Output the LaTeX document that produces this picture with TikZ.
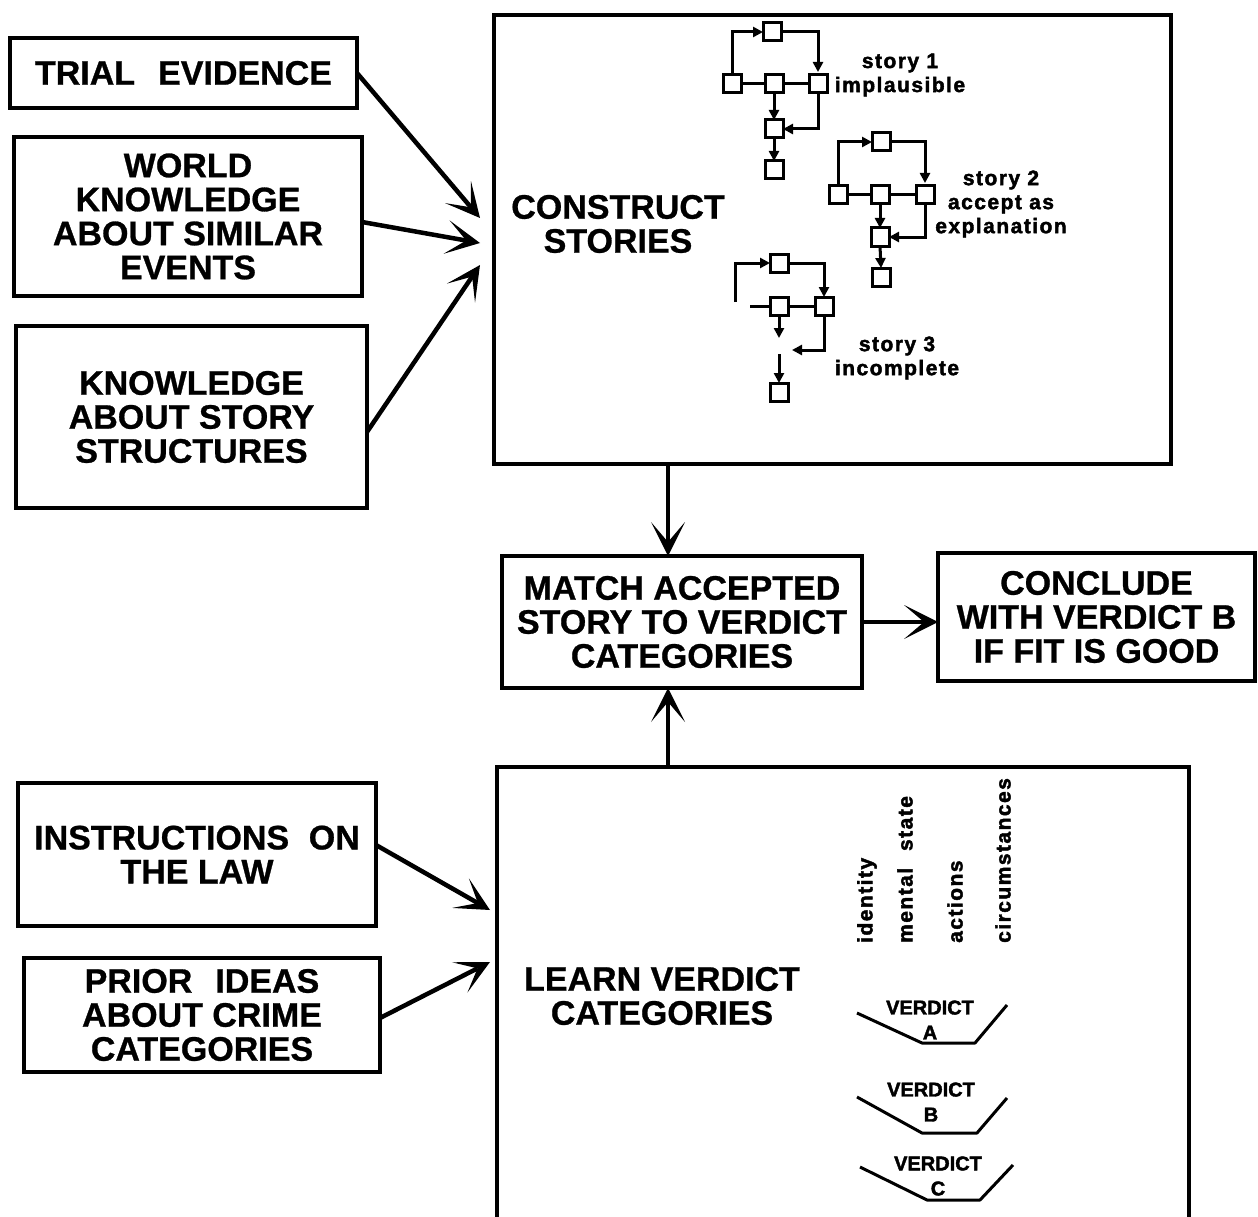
\documentclass[tikz,border=0pt]{standalone}
\usepackage{fontspec}
\setmainfont{Liberation Sans}[BoldFeatures={FakeBold=0.8}]
\newfontfamily\spaced{Liberation Sans}[LetterSpace=7, BoldFeatures={FakeBold=2}]
\newfontfamily\heavy{Liberation Sans}[BoldFeatures={FakeBold=2}]
\usetikzlibrary{arrows.meta,calc}
\begin{document}
\begin{tikzpicture}[x=1pt,y=-1pt]
\tikzset{
 box/.style={draw, line width=4pt, inner sep=0pt, outer sep=0pt, align=center, font=\bfseries\fontsize{34}{34}\selectfont},
 big/.style={align=center, font=\bfseries\fontsize{34}{34}\selectfont, inner sep=0pt},
 arr/.style={line width=4.5pt, -{Stealth[length=34pt,width=34pt,inset=20pt,line width=0pt]}},
 sq/.style={draw, line width=3pt, minimum size=18pt, inner sep=0pt, outer sep=0pt},
 sline/.style={line width=3pt},
 sarr/.style={line width=3pt, -{Triangle[length=10pt,width=10pt]}},
 small/.style={font=\spaced\bfseries\fontsize{21}{24}\selectfont, align=center, inner sep=0pt},
 vlab/.style={small, rotate=90, anchor=west},
 vtext/.style={font=\heavy\bfseries\fontsize{20}{25}\selectfont, align=center, inner sep=0pt},
 vline/.style={line width=3pt, line join=round},
}
\useasboundingbox (0,0) rectangle (1258,1217);
\clip (0,0) rectangle (1258,1217);
\fill[white] (0,0) rectangle (1258,1217);

% input boxes
\node[box, minimum width=347pt, minimum height=70pt] (trial) at (183.5,73) {TRIAL\hspace{0.4em} EVIDENCE};
\node[box, minimum width=348pt, minimum height=159pt] (world) at (188,216.5) {WORLD\\KNOWLEDGE\\ABOUT SIMILAR\\EVENTS};
\node[box, minimum width=351pt, minimum height=182pt] (kstory) at (191.5,417) {KNOWLEDGE\\ABOUT STORY\\STRUCTURES};
\node[box, minimum width=358pt, minimum height=143pt] (instr) at (197,854.5) {INSTRUCTIONS\hspace{0.3em} ON\\THE LAW};
\node[box, minimum width=356pt, minimum height=114pt] (prior) at (202,1015) {PRIOR\hspace{0.4em} IDEAS\\ABOUT CRIME\\CATEGORIES};

% process boxes
\node[box, minimum width=677pt, minimum height=449pt] (construct) at (832.5,239.5) {};
\node[big] (constructtxt) at (618,224) {CONSTRUCT\\STORIES};
\node[box, minimum width=360pt, minimum height=132pt] (match) at (682,622) {MATCH ACCEPTED\\STORY TO VERDICT\\CATEGORIES};
\node[box, minimum width=317pt, minimum height=128pt] (conclude) at (1096.5,617) {CONCLUDE\\WITH VERDICT B\\IF FIT IS GOOD};
\node[box, minimum width=692pt, minimum height=473pt] (learn) at (843,1003.5) {};
\node[big] (learntxt) at (662,996) {LEARN VERDICT\\CATEGORIES};

% main arrows
\draw[arr] (trial.east) -- ([xshift=-14pt,yshift=21.5pt]construct.west);
\draw[arr] ([yshift=-5.5pt]world.east) -- ([xshift=-14pt,yshift=-3.5pt]construct.west);
\draw[arr] ([yshift=-15pt]kstory.east) -- ([xshift=-14pt,yshift=-25.5pt]construct.west);
\draw[arr] ([xshift=-164.5pt]construct.south) -- ([xshift=-14pt]match.north);
\draw[arr] ([xshift=-175pt]learn.north) -- ([xshift=-14pt]match.south);
\draw[arr] (match.east) -- (match.east -| conclude.west);
\draw[arr] ([yshift=9.5pt]instr.east) -- ([xshift=-7pt,yshift=93.5pt]learn.west);
\draw[arr] ([yshift=-3pt]prior.east) -- ([xshift=-7pt,yshift=41.5pt]learn.west);

% story 1
\node[sq] (s1t) at (772,32) {};
\node[sq] (s1a) at (732,84) {};
\node[sq] (s1b) at (774,84) {};
\node[sq] (s1c) at (818,84) {};
\node[sq] (s1d) at (774,129) {};
\node[sq] (s1e) at (774,170) {};
\draw[sarr] (s1a.north) |- (s1t.west);
\draw[sarr, shorten >=3pt] (s1t.east) -| (s1c.north);
\draw[sline] (s1a.east) -- (s1b.west) (s1b.east) -- (s1c.west);
\draw[sarr] (s1b.south) -- (s1d.north);
\draw[sarr] (s1c.south) |- (s1d.east);
\draw[sarr] (s1d.south) -- (s1e.north);
\node[small] (s1txt) at (900,75) {story 1\\implausible};

% story 2
\node[sq] (s2t) at (881,142) {};
\node[sq] (s2a) at (838,195) {};
\node[sq] (s2b) at (880,195) {};
\node[sq] (s2c) at (925,195) {};
\node[sq] (s2d) at (880,237) {};
\node[sq] (s2e) at (881,277) {};
\draw[sarr] (s2a.north) |- (s2t.west);
\draw[sarr, shorten >=3pt] (s2t.east) -| (s2c.north);
\draw[sline] (s2a.east) -- (s2b.west) (s2b.east) -- (s2c.west);
\draw[sarr] (s2b.south) -- (s2d.north);
\draw[sarr] (s2c.south) |- (s2d.east);
\draw[sarr] (s2d.south) -- (s2e.north);
\node[small] (s2txt) at (1001,204) {story 2\\accept as\\explanation};

% story 3
\node[sq] (s3t) at (779,263) {};
\node[sq] (s3b) at (779,306) {};
\node[sq] (s3c) at (824,306) {};
\node[sq] (s3e) at (779,392) {};
\coordinate (s3l) at (735,302);
\coordinate (s3m) at (750,306);
\coordinate (s3bd) at (779,338);
\coordinate (s3cl) at (792,350);
\coordinate (s3et) at (779,354);
\draw[sarr] (s3l) |- (s3t.west);
\draw[sarr] (s3t.east) -| (s3c.north);
\draw[sline] (s3m) -- (s3b.west) (s3b.east) -- (s3c.west);
\draw[sarr] (s3b.south) -- (s3bd);
\draw[sarr] (s3c.south) |- (s3cl);
\draw[sarr] (s3et) -- (s3e.north);
\node[small] (s3txt) at (897,358) {story 3\\incomplete};

% verdict features
\node[vlab] (fid) at (867,943) {identity};
\node[vlab] (fms) at (905,943) {mental\hspace{0.8em}state};
\node[vlab] (fac) at (955,943) {actions};
\node[vlab] (fci) at (1003,943) {circumstances};

% verdict categories
\draw[vline] (857,1013) -- (922,1043) -- (975,1043) -- (1007,1005);
\node[vtext] (vA) at (930,1020) {VERDICT\\A};
\draw[vline] (857,1097) -- (922,1133) -- (977,1133) -- (1007,1098);
\node[vtext] (vB) at (931,1102) {VERDICT\\B};
\draw[vline] (860,1167) -- (927,1200) -- (980,1200) -- (1013,1165);
\node[vtext] (vC) at (938,1176) {VERDICT\\C};
\end{tikzpicture}
\end{document}
